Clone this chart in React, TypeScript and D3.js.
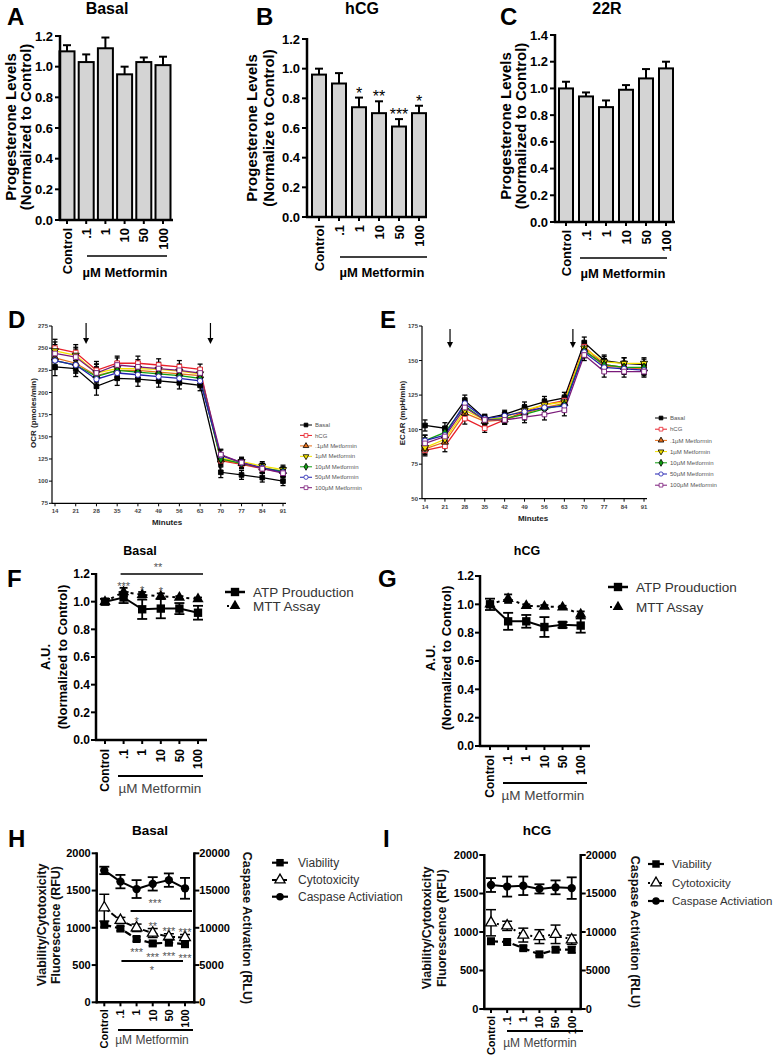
import React from 'react';
import * as d3 from 'd3';

const FONT = "'Liberation Sans', Arial, Helvetica, sans-serif";

// ---------- shared categories ----------
const doses = ['Control', '.1', '1', '10', '50', '100'];
const minutes = [14, 21, 28, 35, 42, 49, 56, 63, 70, 77, 84, 91];

// ---------- Panels A-C: progesterone ----------
const progBasal = [1.1, 1.03, 1.12, 0.95, 1.03, 1.01];
const progBasalErr = [0.04, 0.05, 0.07, 0.05, 0.03, 0.055];
const progHcg = [0.96, 0.9, 0.74, 0.7, 0.61, 0.7];
const progHcgErr = [0.04, 0.07, 0.065, 0.08, 0.05, 0.05];
const progHcgStars = ['', '', '*', '**', '***', '*'];
const prog22R = [1.0, 0.94, 0.86, 0.99, 1.075, 1.15];
const prog22RErr = [0.05, 0.03, 0.05, 0.035, 0.07, 0.05];

// ---------- Panel D: OCR ----------
const ocrBasal = [229, 227, 207, 216, 215, 213, 211, 208, 110, 107, 104, 100];
const ocrHcg = [250, 245, 225, 233, 233, 231, 229, 226, 123, 119, 114, 110];
const ocr01 = [239, 233, 219, 225, 225, 223, 221, 219, 124, 120, 115, 111];
const ocr1 = [247, 242, 222, 227, 227, 226, 224, 221, 126, 122, 117, 113];
const ocr10 = [236, 231, 218, 225, 223, 221, 219, 216, 125, 120, 115, 111];
const ocr50 = [236, 231, 215, 222, 220, 218, 216, 213, 129, 121, 115, 110];
const ocr100 = [244, 240, 222, 231, 229, 227, 225, 222, 130, 121, 114, 109];
const ocrErr = [10, 9, 10, 8, 8, 7, 7, 6, 6, 5, 5, 5];

// ---------- Panel E: ECAR ----------
const ecarBasal = [103, 101, 121, 108, 111, 116, 120, 123, 163, 150, 148, 147];
const ecarHcg = [85, 88, 108, 101, 107, 113, 118, 121, 160, 147, 145, 144];
const ecar01 = [86, 91, 112, 106, 107, 112, 116, 119, 158, 146, 145, 144];
const ecar1 = [87, 93, 114, 107, 109, 114, 118, 120, 159, 149, 148, 148];
const ecar10 = [92, 98, 117, 107, 108, 111, 115, 118, 157, 147, 145, 145];
const ecar50 = [92, 96, 119, 108, 110, 113, 116, 117, 156, 145, 144, 143];
const ecar100 = [90, 95, 116, 107, 107, 109, 111, 114, 154, 142, 142, 142];
const ecarErr = [4, 4, 4, 3, 3, 4, 4, 4, 4, 4, 4, 4];

const seriesNames = ['Basal', 'hCG', '.1µM Metformin', '1µM Metformin', '10µM Metformin', '50µM Metformin', '100µM Metformin'];
const seriesColors = ['#000000', '#e8202a', '#e8701a', '#f2e200', '#10a010', '#2020b0', '#7a1a7a'];
const seriesShapes = ['square', 'squareOpen', 'triangle', 'triangleDown', 'diamond', 'circleOpen', 'squareOpen'];

// ---------- Panels F-G: ATP / MTT ----------
const atpBasal = [1.0, 1.03, 0.945, 0.95, 0.95, 0.92];
const atpBasalErr = [0.02, 0.04, 0.07, 0.07, 0.04, 0.05];
const mttBasal = [1.0, 1.07, 1.05, 1.04, 1.03, 1.02];
const mttBasalErr = [0.01, 0.03, 0.02, 0.02, 0.01, 0.01];
const mttBasalStars = ['', '***', '*', '*', '', ''];
const atpHcg = [1.0, 0.88, 0.88, 0.84, 0.855, 0.85];
const atpHcgErr = [0.04, 0.06, 0.045, 0.07, 0.02, 0.05];
const mttHcg = [1.0, 1.04, 0.99, 0.985, 0.98, 0.93];
const mttHcgErr = [0.02, 0.03, 0.01, 0.01, 0.01, 0.02];

// ---------- Panels H-I: viability / cytotoxicity / caspase ----------
const viaBasal = [1040, 990, 850, 790, 800, 780];
const viaBasalErr = [30, 30, 30, 30, 30, 40];
const cytoBasal = [1270, 1100, 1000, 930, 880, 870];
const cytoBasalErr = [180, 40, 50, 60, 40, 40];
const caspBasal = [17700, 16200, 15200, 15900, 16400, 15300];
const caspBasalErr = [500, 900, 1200, 900, 900, 1400];
const cytoBasalStars = ['', '', '*', '**', '***', '***'];
const viaBasalStars = ['', '', '***', '***', '***', '***'];

const viaHcg = [880, 870, 790, 710, 770, 770];
const viaHcgErr = [30, 20, 30, 20, 30, 40];
const cytoHcg = [1120, 1080, 960, 940, 970, 900];
const cytoHcgErr = [170, 60, 90, 90, 120, 60];
const caspHcg = [16100, 15900, 16000, 15600, 15800, 15700];
const caspHcgErr = [900, 1300, 1200, 600, 900, 1400];

// ---------- helpers ----------
const symPath = (shape: string, size: number) => {
  const t = shape.startsWith('square')
    ? d3.symbolSquare
    : shape.startsWith('triangle')
    ? d3.symbolTriangle
    : shape.startsWith('diamond')
    ? d3.symbolDiamond
    : d3.symbolCircle;
  return d3.symbol().type(t).size(size)() as string;
};

function Marker({ shape, x, y, size, color, stroke = '#000', sw = 1 }: any) {
  const open = shape.endsWith('Open');
  const rot = shape.startsWith('triangleDown') ? ' rotate(180)' : '';
  return (
    <path
      d={symPath(shape, size)}
      transform={`translate(${x},${y})${rot}`}
      fill={open ? '#fff' : color}
      stroke={open ? color : stroke}
      strokeWidth={sw}
    />
  );
}

function Letter({ x, y, t }: any) {
  return (
    <text x={x} y={y} fontSize={24} fontWeight="bold" fill="#000">
      {t}
    </text>
  );
}

function RotText({ x, y, text, size, weight = 'bold', angle = -90, fill = '#000', anchor = 'middle' }: any) {
  return (
    <text
      transform={`translate(${x},${y}) rotate(${angle})`}
      textAnchor={anchor}
      dy="0.35em"
      fontSize={size}
      fontWeight={weight}
      fill={fill}
    >
      {text}
    </text>
  );
}

function ErrBar({ x, yLo, yHi, cap, sw = 2, color = '#000' }: any) {
  return (
    <g stroke={color} strokeWidth={sw}>
      <line x1={x} x2={x} y1={yLo} y2={yHi} />
      <line x1={x - cap} x2={x + cap} y1={yHi} y2={yHi} />
      {yLo !== undefined && <line x1={x - cap} x2={x + cap} y1={yLo} y2={yLo} />}
    </g>
  );
}

// ---------- Bar panel (A-C) ----------
function BarPanel(p: any) {
  const y = d3.scaleLinear().domain([0, p.max]).range([p.y0, p.yTop]);
  const x = d3.scalePoint<string>().domain(doses).range([p.c0, p.c1]);
  const ticks = d3.range(0, p.max + 1e-9, 0.2);
  const fmt = d3.format('.1f');
  return (
    <g>
      <Letter x={p.letterX} y={25} t={p.letter} />
      <text x={p.titleX} y={14} textAnchor="middle" fontSize={16} fontWeight="bold">
        {p.title}
      </text>
      {p.values.map((v: number, i: number) => {
        const cx = x(doses[i])!;
        const top = y(v + p.errs[i]);
        return (
          <g key={i}>
            <line x1={cx} x2={cx} y1={y(v)} y2={top} stroke="#000" strokeWidth={2} />
            <line x1={cx - 4} x2={cx + 4} y1={top} y2={top} stroke="#000" strokeWidth={2} />
            <rect x={cx - p.bw / 2} y={y(v)} width={p.bw} height={p.y0 - y(v)} fill="#d4d4d4" stroke="#000" strokeWidth={2} />
            {p.stars && p.stars[i] && (
              <text x={cx} y={top + 1} textAnchor="middle" fontSize={16} fill="#000">
                {p.stars[i]}
              </text>
            )}
          </g>
        );
      })}
      <line x1={p.axisX} x2={p.axisX} y1={p.y0 + 1} y2={p.yTop - 1} stroke="#000" strokeWidth={2.5} />
      <line x1={p.axisX - 1} x2={p.xEnd} y1={p.y0} y2={p.y0} stroke="#000" strokeWidth={2.5} />
      {ticks.map((t) => (
        <g key={t}>
          <line x1={p.axisX - 5} x2={p.axisX} y1={y(t)} y2={y(t)} stroke="#000" strokeWidth={2} />
          <text x={p.axisX - 7} y={y(t)} dy="0.35em" textAnchor="end" fontSize={13} fontWeight="bold">
            {fmt(t)}
          </text>
        </g>
      ))}
      {doses.map((d) => (
        <g key={d}>
          <line x1={x(d)} x2={x(d)} y1={p.y0} y2={p.y0 + 4} stroke="#000" strokeWidth={2} />
          <RotText x={x(d)} y={p.y0 + 8} text={d} size={13} anchor="end" />
        </g>
      ))}
      <line x1={p.ul[0]} x2={p.ul[1]} y1={p.ul[2]} y2={p.ul[2]} stroke="#000" strokeWidth={1.5} />
      <text x={p.met[0]} y={p.met[1]} textAnchor="middle" fontSize={13} fontWeight="bold">
        µM Metformin
      </text>
      <RotText x={p.ylabX[0]} y={p.ylabY} text={p.ylab[0]} size={15} />
      <RotText x={p.ylabX[1]} y={p.ylabY} text={p.ylab[1]} size={15} />
    </g>
  );
}

// ---------- Line panel (D-E) ----------
function LinePanel(p: any) {
  const x = d3.scaleLinear().domain([14, 91]).range([p.x0, p.x1]);
  const y = d3.scaleLinear().domain([p.yMin, p.yMax]).range([p.yB, p.yT]);
  const line = d3
    .line<number>()
    .x((_, i) => x(minutes[i]))
    .y((v) => y(v));
  const ticks = d3.range(p.yMin, p.yMax + 1, p.step);
  return (
    <g>
      <Letter x={p.letterX} y={328} t={p.letter} />
      <line x1={p.axisX} x2={p.axisX} y1={p.yB} y2={p.yT} stroke="#000" strokeWidth={1.2} />
      <line x1={p.axisX} x2={p.xEnd} y1={p.yB} y2={p.yB} stroke="#000" strokeWidth={1.2} />
      {ticks.map((t: number) => (
        <g key={t}>
          <line x1={p.axisX - 3} x2={p.axisX} y1={y(t)} y2={y(t)} stroke="#000" strokeWidth={1} />
          <text x={p.axisX - 4} y={y(t)} dy="0.35em" textAnchor="end" fontSize={6} fontWeight="bold" fill="#444">
            {t}
          </text>
        </g>
      ))}
      {minutes.map((m) => (
        <g key={m}>
          <line x1={x(m)} x2={x(m)} y1={p.yB} y2={p.yB + 3} stroke="#000" strokeWidth={1} />
          <text x={x(m)} y={p.yB + 8} dy="0.35em" textAnchor="middle" fontSize={6} fontWeight="bold" fill="#444">
            {m}
          </text>
        </g>
      ))}
      <text x={p.minX} y={p.minY} textAnchor="middle" fontSize={8} fontWeight="bold" fill="#222">
        Minutes
      </text>
      <RotText x={p.ylabX} y={413} text={p.ylab} size={8} fill="#222" />
      {p.series.map((s: number[], k: number) => (
        <path key={k} d={line(s) as string} fill="none" stroke={seriesColors[k]} strokeWidth={1.3} />
      ))}
      {p.series.map((s: number[], k: number) =>
        s.map((v, i) => (
          <ErrBar key={`${k}-${i}`} x={x(minutes[i])} yLo={y(v - p.err[i])} yHi={y(v + p.err[i])} cap={2.5} sw={1.3} />
        ))
      )}
      {p.series.map((s: number[], k: number) =>
        s.map((v, i) => (
          <Marker key={`m${k}-${i}`} shape={seriesShapes[k]} x={x(minutes[i])} y={y(v)} size={22} color={k === 0 ? '#000' : seriesColors[k]} sw={0.9} />
        ))
      )}
      {p.arrows.map((a: number) => (
        <g key={a}>
          <line x1={x(a)} x2={x(a)} y1={p.arrY0} y2={p.arrY1 - 3} stroke="#000" strokeWidth={1.2} />
          <path d={`M${x(a) - 3},${p.arrY1 - 6}L${x(a)},${p.arrY1}L${x(a) + 3},${p.arrY1 - 6}Z`} fill="#000" />
        </g>
      ))}
      {seriesNames.map((n, k) => {
        const ly = p.legY + k * p.legDy;
        return (
          <g key={n}>
            <line x1={p.legX - 6} x2={p.legX + 6} y1={ly} y2={ly} stroke={seriesColors[k]} strokeWidth={1} />
            <Marker shape={seriesShapes[k]} x={p.legX} y={ly} size={14} color={k === 0 ? '#000' : seriesColors[k]} sw={0.8} />
            <text x={p.legX + 9} y={ly} dy="0.35em" fontSize={6} fill="#555">
              {n}
            </text>
          </g>
        );
      })}
    </g>
  );
}

// ---------- Dose panel (F-G) ----------
function DosePanel(p: any) {
  const y = d3.scaleLinear().domain([0, 1.2]).range([p.y0, p.yTop]);
  const x = d3.scalePoint<string>().domain(doses).range([p.c0, p.c1]);
  const ticks = d3.range(0, 1.2 + 1e-9, 0.2);
  const fmt = d3.format('.1f');
  const line = d3
    .line<number>()
    .x((_, i) => x(doses[i])!)
    .y((v) => y(v));
  return (
    <g>
      <Letter x={p.letterX} y={587} t={p.letter} />
      <text x={p.titleX} y={555} textAnchor="middle" fontSize={12.5} fontWeight="bold">
        {p.title}
      </text>
      <line x1={p.axisX} x2={p.axisX} y1={p.y0 + 1} y2={p.yTop - 1} stroke="#000" strokeWidth={2.5} />
      <line x1={p.axisX - 1} x2={p.xEnd} y1={p.y0} y2={p.y0} stroke="#000" strokeWidth={2.5} />
      {ticks.map((t) => (
        <g key={t}>
          <line x1={p.axisX - 5} x2={p.axisX} y1={y(t)} y2={y(t)} stroke="#000" strokeWidth={2} />
          <text x={p.axisX - 6} y={y(t)} dy="0.35em" textAnchor="end" fontSize={12} fontWeight="bold">
            {fmt(t)}
          </text>
        </g>
      ))}
      {doses.map((d) => (
        <g key={d}>
          <line x1={x(d)} x2={x(d)} y1={p.y0} y2={p.y0 + 4} stroke="#000" strokeWidth={2} />
          <RotText x={x(d)} y={p.y0 + 9} text={d} size={12} anchor="end" />
        </g>
      ))}
      <line x1={p.ul[0]} x2={p.ul[1]} y1={p.ul[2]} y2={p.ul[2]} stroke="#000" strokeWidth={2} />
      <text x={p.met[0]} y={p.met[1]} textAnchor="middle" fontSize={13.5} fill="#444">
        µM Metformin
      </text>
      <RotText x={p.ylabX[0]} y={p.ylabY} text="A.U." size={13} />
      <RotText x={p.ylabX[1]} y={p.ylabY} text="(Normalized to Control)" size={13} />
      {/* MTT */}
      <path d={line(p.mtt) as string} fill="none" stroke="#000" strokeWidth={2} strokeDasharray="3,4" />
      {p.mtt.map((v: number, i: number) => (
        <ErrBar key={`me${i}`} x={x(doses[i])} yLo={y(v - p.mttErr[i])} yHi={y(v + p.mttErr[i])} cap={4} sw={1.8} />
      ))}
      {p.mtt.map((v: number, i: number) => (
        <Marker key={`mm${i}`} shape="triangle" x={x(doses[i])} y={y(v)} size={55} color="#000" sw={0} />
      ))}
      {/* ATP */}
      <path d={line(p.atp) as string} fill="none" stroke="#000" strokeWidth={2} />
      {p.atp.map((v: number, i: number) => (
        <ErrBar key={`ae${i}`} x={x(doses[i])} yLo={y(v - p.atpErr[i])} yHi={y(v + p.atpErr[i])} cap={5} sw={1.8} />
      ))}
      {p.atp.map((v: number, i: number) => (
        <Marker key={`am${i}`} shape="square" x={x(doses[i])} y={y(v)} size={70} color="#000" sw={0} />
      ))}
      {p.stars &&
        p.stars.map((s: string, i: number) =>
          s ? (
            <text key={`s${i}`} x={x(doses[i])} y={y(p.mtt[i] + p.mttErr[i]) + 2} textAnchor="middle" fontSize={11} fill="#555">
              {s}
            </text>
          ) : null
        )}
      {p.bracket && (
        <g>
          <line x1={x('.1')! - 3} x2={x('100')! + 5} y1={y(1.2)} y2={y(1.2)} stroke="#000" strokeWidth={1.5} />
          <text x={p.bracket[0]} y={y(1.2) - 3} textAnchor="middle" fontSize={11} fill="#555">
            {p.bracket[1]}
          </text>
        </g>
      )}
      {/* legend */}
      <line x1={p.legX} x2={p.legX + 20} y1={p.legY[0]} y2={p.legY[0]} stroke="#000" strokeWidth={2.5} />
      <Marker shape="square" x={p.legX + 10} y={p.legY[0]} size={70} color="#000" sw={0} />
      <text x={p.legX + 28} y={p.legY[0]} dy="0.36em" fontSize={13.5} fill="#333">
        ATP Prouduction
      </text>
      <line x1={p.legX + 2} x2={p.legX + 18} y1={p.legY[1]} y2={p.legY[1]} stroke="#000" strokeWidth={2} strokeDasharray="2,6" />
      <Marker shape="triangle" x={p.legX + 10} y={p.legY[1]} size={50} color="#000" sw={0} />
      <text x={p.legX + 28} y={p.legY[1]} dy="0.36em" fontSize={13.5} fill="#333">
        MTT Assay
      </text>
    </g>
  );
}

// ---------- Dual axis panel (H-I) ----------
function DualPanel(p: any) {
  const yL = d3.scaleLinear().domain([0, 2000]).range([p.y0, p.yTop]);
  const yR = d3.scaleLinear().domain([0, 20000]).range([p.y0, p.yTop]);
  const x = d3.scalePoint<string>().domain(doses).range([p.c0, p.c1]);
  const lineL = d3
    .line<number>()
    .x((_, i) => x(doses[i])!)
    .y((v) => yL(v));
  const lineR = d3
    .line<number>()
    .x((_, i) => x(doses[i])!)
    .y((v) => yR(v));
  const ticksL = d3.range(0, 2001, 500);
  const ticksR = d3.range(0, 20001, 5000);
  return (
    <g>
      <Letter x={p.letterX} y={847} t={p.letter} />
      <text x={p.titleX} y={835} textAnchor="middle" fontSize={13.5} fontWeight="bold">
        {p.title}
      </text>
      <line x1={p.axL} x2={p.axL} y1={p.y0 + 1} y2={p.yTop - 1} stroke="#000" strokeWidth={2.5} />
      <line x1={p.axR} x2={p.axR} y1={p.y0 + 1} y2={p.yTop - 1} stroke="#000" strokeWidth={2.5} />
      <line x1={p.axL - 1} x2={p.axR + 1} y1={p.y0} y2={p.y0} stroke="#000" strokeWidth={2.5} />
      {ticksL.map((t) => (
        <g key={`l${t}`}>
          <line x1={p.axL - 5} x2={p.axL} y1={yL(t)} y2={yL(t)} stroke="#000" strokeWidth={2} />
          <text x={p.axL - 6} y={yL(t)} dy="0.35em" textAnchor="end" fontSize={11} fontWeight="bold">
            {t}
          </text>
        </g>
      ))}
      {ticksR.map((t) => (
        <g key={`r${t}`}>
          <line x1={p.axR} x2={p.axR + 5} y1={yR(t)} y2={yR(t)} stroke="#000" strokeWidth={2} />
          <text x={p.axR + 5} y={yR(t)} dy="0.35em" textAnchor="start" fontSize={11} fontWeight="bold">
            {t}
          </text>
        </g>
      ))}
      {doses.map((d) => (
        <g key={d}>
          <line x1={x(d)} x2={x(d)} y1={p.y0} y2={p.y0 + 4} stroke="#000" strokeWidth={2} />
          <RotText x={x(d)} y={p.y0 + 7} text={d} size={11} anchor="end" />
        </g>
      ))}
      <line x1={p.ul[0]} x2={p.ul[1]} y1={p.ul[2]} y2={p.ul[2]} stroke="#000" strokeWidth={2} />
      <text x={p.met[0]} y={p.met[1]} textAnchor="middle" fontSize={12} fill="#444">
        µM Metformin
      </text>
      <RotText x={p.ylabX[0]} y={p.ylabY} text="Viability/Cytotoxicity" size={12.5} fill="#111" />
      <RotText x={p.ylabX[1]} y={p.ylabY} text="Fluorescence (RFU)" size={12.5} fill="#111" />
      <RotText x={p.rlabX} y={p.rlabY} text="Caspase Activation (RLU)" size={12.5} angle={90} fill="#111" />

      {/* caspase */}
      <path d={lineR(p.casp) as string} fill="none" stroke="#000" strokeWidth={2} />
      {p.casp.map((v: number, i: number) => (
        <ErrBar key={`ce${i}`} x={x(doses[i])} yLo={yR(v - p.caspErr[i])} yHi={yR(v + p.caspErr[i])} cap={5} sw={1.8} />
      ))}
      {p.casp.map((v: number, i: number) => (
        <Marker key={`cm${i}`} shape="circle" x={x(doses[i])} y={yR(v)} size={55} color="#000" sw={0} />
      ))}
      {/* cytotoxicity */}
      <path d={lineL(p.cyto) as string} fill="none" stroke="#000" strokeWidth={2} strokeDasharray={p.cytoDash} />
      {p.cyto.map((v: number, i: number) => (
        <ErrBar key={`te${i}`} x={x(doses[i])} yLo={yL(v - p.cytoErr[i])} yHi={yL(v + p.cytoErr[i])} cap={5} sw={1.5} />
      ))}
      {p.cyto.map((v: number, i: number) => (
        <Marker key={`tm${i}`} shape="triangleOpen" x={x(doses[i])} y={yL(v)} size={50} color="#000" sw={1.3} />
      ))}
      {/* viability */}
      <path d={lineL(p.via) as string} fill="none" stroke="#000" strokeWidth={2.2} strokeDasharray="7,4" />
      {p.via.map((v: number, i: number) => (
        <ErrBar key={`ve${i}`} x={x(doses[i])} yLo={yL(v - p.viaErr[i])} yHi={yL(v + p.viaErr[i])} cap={4} sw={1.5} />
      ))}
      {p.via.map((v: number, i: number) => (
        <Marker key={`vm${i}`} shape="square" x={x(doses[i])} y={yL(v)} size={64} color="#000" sw={0} />
      ))}
      {p.cytoStars &&
        p.cytoStars.map((s: string, i: number) =>
          s ? (
            <text key={`cs${i}`} x={x(doses[i])} y={yL(p.cyto[i] + p.cytoErr[i]) + 1} textAnchor="middle" fontSize={11} fill="#555">
              {s}
            </text>
          ) : null
        )}
      {p.viaStars &&
        p.viaStars.map((s: string, i: number) =>
          s ? (
            <text key={`vs${i}`} x={x(doses[i])} y={yL(p.via[i] - p.viaErr[i]) + 15} textAnchor="middle" fontSize={11} fill="#555">
              {s}
            </text>
          ) : null
        )}
      {p.brackets &&
        p.brackets.map((b: any, k: number) => (
          <g key={`b${k}`}>
            <line x1={x(b.from)! + b.dx0} x2={x(b.to)! + b.dx1} y1={yL(b.v)} y2={yL(b.v)} stroke="#000" strokeWidth={2} />
            <text x={b.tx} y={yL(b.v) + b.ty} textAnchor="middle" fontSize={11} fill="#555">
              {b.label}
            </text>
          </g>
        ))}
      {/* legend */}
      {[
        { n: 'Viability', shape: 'square', dash: undefined },
        { n: 'Cytotoxicity', shape: 'triangleOpen', dash: p.cytoDash },
        { n: 'Caspase Activiation', shape: 'circle', dash: undefined },
      ].map((l, k) => (
        <g key={l.n}>
          <line x1={p.legX} x2={p.legX + 16} y1={p.legY[k]} y2={p.legY[k]} stroke="#000" strokeWidth={2.2} strokeDasharray={l.dash} />
          <Marker shape={l.shape} x={p.legX + 8} y={p.legY[k]} size={l.shape === 'square' ? 56 : 45} color="#000" sw={l.shape === 'triangleOpen' ? 1.3 : 0} />
          <text x={p.legX + p.legTextDx} y={p.legY[k]} dy="0.36em" fontSize={p.legFont} fill="#333">
            {l.n}
          </text>
        </g>
      ))}
    </g>
  );
}

export default function App() {
  return (
    <svg
      width={777}
      height={1056}
      style={{ position: 'absolute', left: 0, top: 0, background: '#fff' }}
      fontFamily={FONT}
    >
      <BarPanel
        letter="A" letterX={7} title="Basal" titleX={107}
        axisX={60} y0={220} yTop={36} max={1.2} c0={67} c1={163} xEnd={173} bw={15}
        values={progBasal} errs={progBasalErr}
        ylab={['Progesterone Levels', '(Normalized to Control)']} ylabX={[11, 26]} ylabY={127}
        ul={[87, 167, 256]} met={[125, 277]}
      />
      <BarPanel
        letter="B" letterX={256} title="hCG" titleX={362}
        axisX={307} y0={217} yTop={39} max={1.2} c0={319} c1={419} xEnd={427} bw={14}
        values={progHcg} errs={progHcgErr} stars={progHcgStars}
        ylab={['Progesterone Levels', '(Normalize to Control)']} ylabX={[252, 269]} ylabY={128}
        ul={[340, 427, 257]} met={[382, 277]}
      />
      <BarPanel
        letter="C" letterX={500} title="22R" titleX={607}
        axisX={555} y0={222} yTop={35} max={1.4} c0={566} c1={666} xEnd={675} bw={14}
        values={prog22R} errs={prog22RErr}
        ylab={['Progesterone Levels', '(Normalized to Control)']} ylabX={[506, 521]} ylabY={126}
        ul={[580, 667, 258]} met={[623, 278]}
      />
      <LinePanel
        letter="D" letterX={8}
        axisX={52} x0={55} x1={283} xEnd={286} yB={503.3} yT={326} yMin={75} yMax={275} step={25}
        series={[ocrBasal, ocrHcg, ocr01, ocr1, ocr10, ocr50, ocr100]} err={ocrErr}
        ylab="OCR (pmoles/min)" ylabX={33} minX={167} minY={525}
        arrows={[24.5, 66.5]} arrY0={323} arrY1={344}
        legX={306} legY={425} legDy={10.45}
      />
      <LinePanel
        letter="E" letterX={380}
        axisX={422} x0={425} x1={644} xEnd={647} yB={498.7} yT={326} yMin={50} yMax={175} step={25}
        series={[ecarBasal, ecarHcg, ecar01, ecar1, ecar10, ecar50, ecar100]} err={ecarErr}
        ylab="ECAR (mpH/min)" ylabX={402} minX={533} minY={521}
        arrows={[22.8, 66]} arrY0={329} arrY1={348}
        legX={661} legY={418} legDy={11.2}
      />
      <DosePanel
        letter="F" letterX={7} title="Basal" titleX={140}
        axisX={96} y0={740} yTop={574} c0={105} c1={198} xEnd={207}
        atp={atpBasal} atpErr={atpBasalErr} mtt={mttBasal} mttErr={mttBasalErr}
        stars={mttBasalStars} bracket={[158, '**']}
        ylabX={[45, 62]} ylabY={657} ul={[118, 203, 776]} met={[160, 793]}
        legX={225} legY={[592, 606]}
      />
      <DosePanel
        letter="G" letterX={378} title="hCG" titleX={527}
        axisX={480} y0={746} yTop={576} c0={490} c1={580.7} xEnd={590}
        atp={atpHcg} atpErr={atpHcgErr} mtt={mttHcg} mttErr={mttHcgErr}
        ylabX={[430, 446]} ylabY={658} ul={[503, 587, 783]} met={[543, 800]}
        legX={608} legY={[587, 607]}
      />
      <DualPanel
        letter="H" letterX={8} title="Basal" titleX={150}
        axL={96.7} axR={194.3} y0={1002.3} yTop={853.3} c0={104.3} c1={185}
        casp={caspBasal} caspErr={caspBasalErr} cyto={cytoBasal} cytoErr={cytoBasalErr} via={viaBasal} viaErr={viaBasalErr}
        cytoDash="6,3" cytoStars={cytoBasalStars} viaStars={viaBasalStars}
        brackets={[
          { from: '1', to: '100', dx0: -6, dx1: 7, v: 1225, tx: 155, ty: -4, label: '***' },
          { from: '.1', to: '100', dx0: 1, dx1: -2, v: 554, tx: 152, ty: 13, label: '*' },
        ]}
        ylabX={[42, 56]} ylabY={925} rlabX={247} rlabY={928}
        ul={[118, 193, 1030]} met={[152, 1044]}
        legX={272} legY={[862.7, 880, 896.7]} legTextDx={26} legFont={12}
      />
      <DualPanel
        letter="I" letterX={383} title="hCG" titleX={537}
        axL={484.3} axR={580.7} y0={1009} yTop={855} c0={491} c1={571.7}
        casp={caspHcg} caspErr={caspHcgErr} cyto={cytoHcg} cytoErr={cytoHcgErr} via={viaHcg} viaErr={viaHcgErr}
        cytoDash="2,4"
        ylabX={[427, 442]} ylabY={928} rlabX={635} rlabY={932}
        ul={[507, 583, 1031]} met={[540, 1047]}
        legX={648} legY={[864, 883, 901]} legTextDx={24} legFont={11.5}
      />
    </svg>
  );
}
